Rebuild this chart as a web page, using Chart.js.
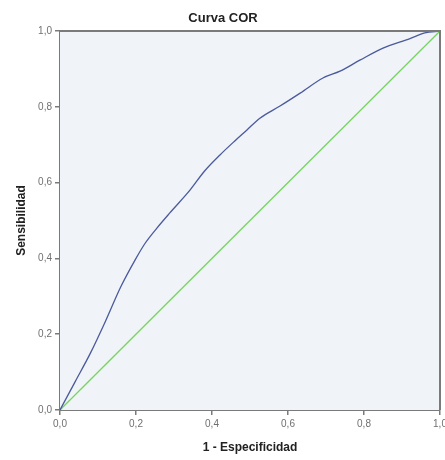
<!DOCTYPE html>
<html>
<head>
<meta charset="utf-8">
<script src="https://cdn.jsdelivr.net/npm/chart.js@4/dist/chart.umd.min.js"></script>
<style>
  html, body { margin: 0; padding: 0; background: #ffffff; }
  #wrap { width: 445px; height: 460px; position: relative; }
</style>
</head>
<body>
<div id="wrap"><canvas id="rocChart"></canvas></div>
<script>
// ROC curve points
const specComplement = [0, 0.04, 0.08, 0.12, 0.16, 0.20, 0.224, 0.255, 0.289, 0.342, 0.38, 0.421, 0.46, 0.492, 0.526, 0.579, 0.632, 0.692, 0.737, 0.789, 0.85, 0.921, 0.96, 1.0];
const sensitivity    = [0, 0.075, 0.15, 0.235, 0.325, 0.40, 0.44, 0.48, 0.52, 0.58, 0.63, 0.673, 0.71, 0.739, 0.77, 0.802, 0.836, 0.876, 0.894, 0.923, 0.955, 0.98, 0.995, 1.0];
// reference (chance) line
const refX = [0, 1];
const refY = [0, 1];
const tickValues = [0, 0.2, 0.4, 0.6, 0.8, 1.0];

const AXIS_GREY = '#7a7a7a';

function toPoints(xs, ys) {
    return xs.map((x, i) => ({ x: x, y: ys[i] }));
}

function commaLabel(v) {
    return Number(v).toFixed(1).replace('.', ',');
}

// plot background + top/right frame
const plotFrame = {
    id: 'plotFrame',
    beforeDatasetsDraw(chart) {
        const { ctx, chartArea: a } = chart;
        ctx.save();
        ctx.fillStyle = '#f0f3f7';
        ctx.fillRect(a.left, a.top, a.right - a.left, a.bottom - a.top);
        ctx.restore();
    },
    afterDatasetsDraw(chart) {
        const { ctx, chartArea: a } = chart;
        ctx.save();
        ctx.strokeStyle = AXIS_GREY;
        ctx.lineWidth = 2;
        ctx.beginPath();
        ctx.moveTo(a.left, a.top);
        ctx.lineTo(a.right, a.top);
        ctx.lineTo(a.right, a.bottom);
        ctx.stroke();
        ctx.restore();
    }
};

const tickFont = { family: 'Liberation Sans, Arial, sans-serif', size: 10 };
const titleFont = { family: 'Liberation Sans, Arial, sans-serif', size: 12, weight: 'bold' };

new Chart(document.getElementById('rocChart'), {
    type: 'scatter',
    data: {
        datasets: [
            {
                label: 'Curva',
                data: toPoints(specComplement, sensitivity),
                showLine: true,
                borderColor: '#4a5a9c',
                borderWidth: 1.3,
                pointRadius: 0,
                cubicInterpolationMode: 'monotone'
            },
            {
                label: 'Referencia',
                data: toPoints(refX, refY),
                showLine: true,
                borderColor: '#74d65e',
                borderWidth: 1.3,
                pointRadius: 0,
                tension: 0
            }
        ]
    },
    options: {
        responsive: true,
        maintainAspectRatio: false,
        animation: false,
        layout: { padding: { top: 4, left: 6, right: 5, bottom: 0 } },
        plugins: {
            legend: { display: false },
            tooltip: { enabled: false },
            title: {
                display: true,
                text: 'Curva COR',
                color: '#222',
                font: { family: 'Liberation Sans, Arial, sans-serif', size: 13, weight: 'bold' },
                padding: { top: 7, bottom: 4.4 }
            }
        },
        scales: {
            x: {
                type: 'linear',
                min: 0,
                max: 1,
                afterBuildTicks: s => { s.ticks = tickValues.map(v => ({ value: v })); },
                afterFit: s => { s.height = 50; s.paddingLeft = 0; s.paddingRight = 0; },
                ticks: { color: '#707070', font: tickFont, padding: 3, maxRotation: 0, callback: commaLabel },
                grid: { drawOnChartArea: false, tickLength: 5, color: AXIS_GREY, lineWidth: 1.5 },
                border: { color: AXIS_GREY, width: 2 },
                title: { display: true, text: '1 - Especificidad', color: '#222', font: titleFont, padding: { top: 4, bottom: 5 } }
            },
            y: {
                type: 'linear',
                min: 0,
                max: 1,
                afterBuildTicks: s => { s.ticks = tickValues.map(v => ({ value: v })); },
                afterFit: s => { s.width = 54; s.paddingTop = 0; s.paddingBottom = 0; },
                ticks: { color: '#707070', font: tickFont, padding: 3, callback: commaLabel },
                grid: { drawOnChartArea: false, tickLength: 5, color: AXIS_GREY, lineWidth: 1.5 },
                border: { color: AXIS_GREY, width: 2 },
                title: { display: true, text: 'Sensibilidad', color: '#222', font: titleFont, padding: { top: 8, bottom: 4 } }
            }
        }
    },
    plugins: [plotFrame]
});
</script>
</body>
</html>
